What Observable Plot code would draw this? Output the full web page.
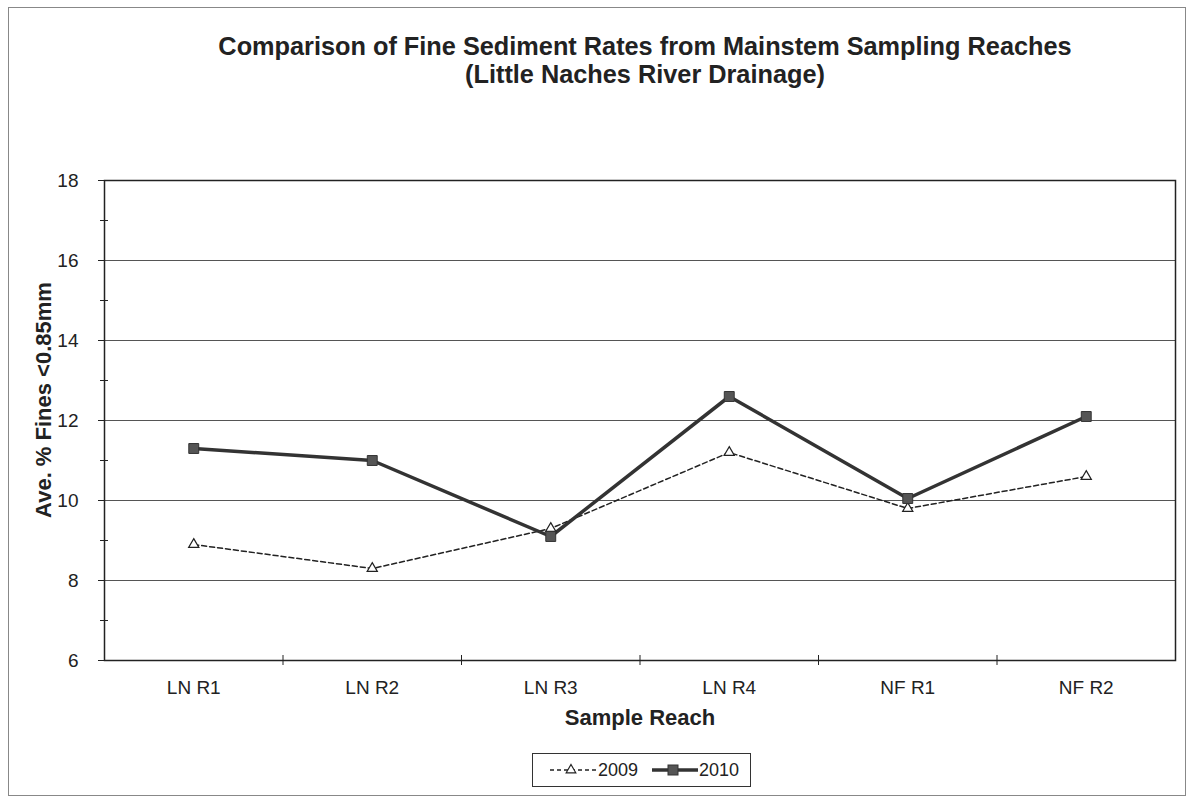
<!DOCTYPE html>
<html>
<head>
<meta charset="utf-8">
<script src="https://cdn.jsdelivr.net/npm/d3@7"></script>
<script src="https://cdn.jsdelivr.net/npm/@observablehq/plot@0.6"></script>
<style>
  body { margin: 0; background: #fff; font-family: "Liberation Sans", Arial, sans-serif; }
  #wrap { position: relative; width: 1191px; height: 803px; overflow: hidden; background: #fff; }
  #frame { position: absolute; left: 8px; top: 7px; width: 1178px; height: 789px; border: 1px solid #888; box-sizing: border-box; }
  #title { position: absolute; left: 0; top: 32px; width: 1290px; text-align: center; font-weight: bold; font-size: 25.3px; line-height: 28px; color: #222; }
  #chart { position: absolute; left: 0; top: 150px; }
  #ylabel { position: absolute; left: 44px; top: 400px; transform: translate(-50%, -50%) rotate(-90deg); white-space: nowrap; font-weight: bold; font-size: 22px; color: #222; line-height: 22px; }
  #legend { position: absolute; left: 532px; top: 753px; width: 219px; height: 34px; border: 1px solid #333; box-sizing: border-box; background: #fff; }
</style>
</head>
<body>
<div id="wrap">
  <div id="frame"></div>
  <div id="title">Comparison of Fine Sediment Rates from Mainstem Sampling Reaches<br>(Little Naches River Drainage)</div>
  <div id="chart"></div>
  <div id="ylabel">Ave. % Fines &lt;0.85mm</div>
  <div id="legend"></div>
</div>
<script>
const categories = ["LN R1", "LN R2", "LN R3", "LN R4", "NF R1", "NF R2"];
const values2009 = [8.9, 8.3, 9.3, 11.2, 9.8, 10.6];
const values2010 = [11.3, 11.0, 9.1, 12.6, 10.05, 12.1];
const majorTicks = [6, 8, 10, 12, 14, 16, 18];
const minorTicks = [7, 9, 11, 13, 15, 17];
const seriesNames = ["2009", "2010"];

const rows2009 = categories.map((c, i) => ({cat: c, pos: i + 0.5, value: values2009[i]}));
const rows2010 = categories.map((c, i) => ({cat: c, pos: i + 0.5, value: values2010[i]}));
const labelPositions = categories.map((c, i) => i + 0.5);
const boundaries = categories.slice(1).map((c, i) => i + 1);

const font = "Liberation Sans, Arial, sans-serif";

const chart = Plot.plot({
  width: 1191,
  height: 600,
  marginTop: 30,
  marginBottom: 90,
  marginLeft: 104,
  marginRight: 16,
  style: {fontFamily: font, color: "#222", background: "transparent"},
  x: {domain: [0, categories.length], axis: null},
  y: {domain: [6, 18], axis: null},
  marks: [
    Plot.gridY([8, 10, 12, 14, 16], {stroke: "#555", strokeOpacity: 1, strokeWidth: 1}),
    Plot.frame({stroke: "#222", strokeWidth: 1.5}),
    Plot.axisY({ticks: majorTicks, label: null, tickSize: 6, tickPadding: 20, fontSize: 19, stroke: "#222", tickFormat: d => String(d)}),
    Plot.axisY({ticks: minorTicks, label: null, tickSize: 8, dx: 4, tickFormat: () => "", stroke: "#222"}),
    Plot.axisX({ticks: labelPositions, label: null, tickSize: 0, tickPadding: 20, fontSize: 19, tickFormat: d => categories[Math.round(d - 0.5)]}),
    Plot.axisX({ticks: boundaries, label: null, tickSize: 10, dy: -5, tickFormat: () => "", stroke: "#222"}),
    Plot.text(["Sample Reach"], {frameAnchor: "bottom", dy: 64, fontSize: 22, fontWeight: "bold", fill: "#222"}),
    Plot.line(rows2009, {x: "pos", y: "value", stroke: "#222", strokeWidth: 1.5, strokeDasharray: "5,3"}),
    Plot.line(rows2010, {x: "pos", y: "value", stroke: "#333", strokeWidth: 3.5}),
    Plot.dot(rows2009, {x: "pos", y: "value", symbol: "triangle", r: 3.8, fill: "#fff", stroke: "#222", strokeWidth: 1.2}),
    Plot.dot(rows2010, {x: "pos", y: "value", symbol: "square", r: 5.6, fill: "#555", stroke: "#333", strokeWidth: 1})
  ]
});
document.getElementById("chart").appendChild(chart);

// legend
const lg = d3.select("#legend").append("svg").attr("width", 217).attr("height", 32)
  .style("font-family", font);
lg.append("line").attr("x1", 17).attr("x2", 63).attr("y1", 16).attr("y2", 16)
  .attr("stroke", "#222").attr("stroke-width", 1.5).attr("stroke-dasharray", "4,3");
lg.append("path").attr("d", d3.symbol(d3.symbolTriangle, 40)()).attr("transform", "translate(38,16)")
  .attr("fill", "#fff").attr("stroke", "#222").attr("stroke-width", 1.2);
lg.append("text").attr("x", 65).attr("y", 22).attr("font-size", 18).attr("fill", "#222").text(seriesNames[0]);
lg.append("line").attr("x1", 119).attr("x2", 165).attr("y1", 16).attr("y2", 16)
  .attr("stroke", "#333").attr("stroke-width", 3.5);
lg.append("rect").attr("x", 135).attr("y", 11).attr("width", 10).attr("height", 10)
  .attr("fill", "#555").attr("stroke", "#333");
lg.append("text").attr("x", 166).attr("y", 22).attr("font-size", 18).attr("fill", "#222").text(seriesNames[1]);
</script>
</body>
</html>
